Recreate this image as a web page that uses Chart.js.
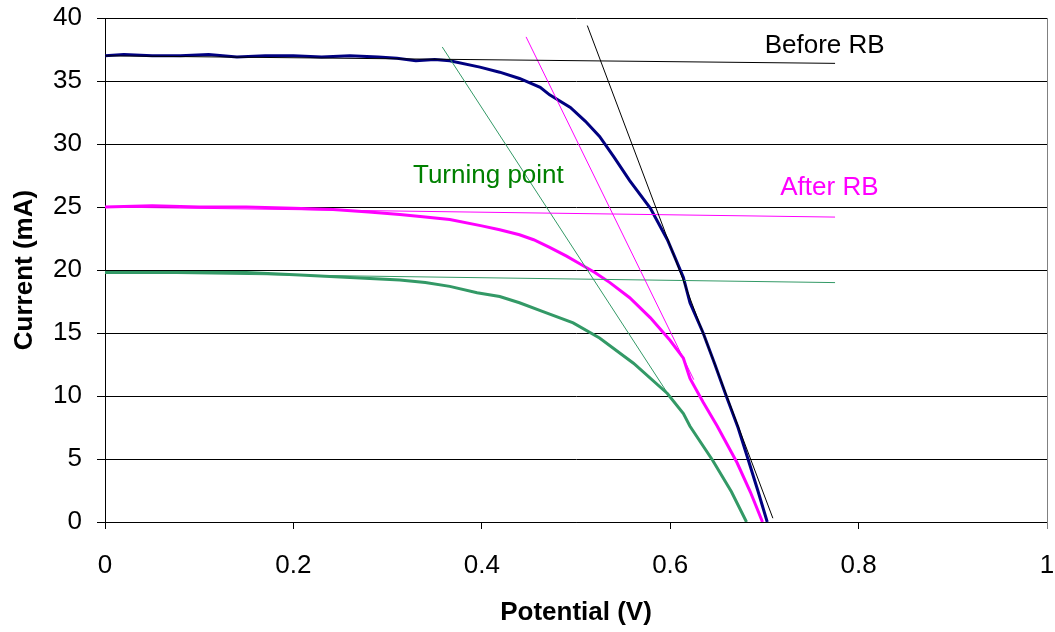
<!DOCTYPE html>
<html>
<head>
<meta charset="utf-8">
<script src="https://cdn.jsdelivr.net/npm/chart.js@4.4.1/dist/chart.umd.min.js"></script>
<style>
  body { margin: 0; background: #fff; }
  canvas { display: block; }
</style>
</head>
<body>
<canvas id="chart" width="1055" height="632"></canvas>
<script>
// I-V curves (potential in V, current in mA)
const beforeV = [0, 0.02, 0.05, 0.08, 0.11, 0.14, 0.17, 0.2, 0.23, 0.26, 0.29, 0.31, 0.33, 0.35, 0.366, 0.398, 0.419, 0.44, 0.462, 0.472, 0.494, 0.51, 0.525, 0.54, 0.557, 0.579, 0.597, 0.605, 0.614, 0.621, 0.635, 0.647, 0.66, 0.672, 0.683, 0.693, 0.703];
const beforeI = [37.0, 37.1, 37.0, 37.0, 37.1, 36.9, 37.0, 37.0, 36.9, 37.0, 36.9, 36.8, 36.6, 36.7, 36.6, 36.1, 35.7, 35.2, 34.5, 33.9, 32.9, 31.8, 30.6, 29.0, 27.1, 24.9, 22.4, 21.0, 19.4, 17.4, 15.0, 12.6, 9.9, 7.5, 4.9, 2.5, 0];

const afterV = [0, 0.05, 0.1, 0.15, 0.2, 0.242, 0.28, 0.313, 0.34, 0.366, 0.4, 0.419, 0.44, 0.455, 0.472, 0.49, 0.504, 0.52, 0.536, 0.557, 0.579, 0.6, 0.614, 0.621, 0.635, 0.65, 0.671, 0.685, 0.698];
const afterI = [25.0, 25.1, 25.0, 25.0, 24.9, 24.8, 24.6, 24.4, 24.2, 24.0, 23.5, 23.2, 22.8, 22.4, 21.8, 21.1, 20.5, 19.8, 19.0, 17.8, 16.2, 14.4, 13.0, 11.4, 9.5, 7.6, 4.7, 2.4, 0];

const turnV = [0, 0.05, 0.1, 0.15, 0.207, 0.26, 0.313, 0.34, 0.366, 0.395, 0.419, 0.44, 0.465, 0.497, 0.525, 0.561, 0.597, 0.614, 0.621, 0.645, 0.665, 0.681];
const turnI = [19.8, 19.8, 19.8, 19.8, 19.6, 19.4, 19.2, 19.0, 18.7, 18.2, 17.9, 17.4, 16.7, 15.8, 14.6, 12.6, 10.2, 8.6, 7.6, 4.9, 2.4, 0];

// tangent lines: [start, end]
const beforeFlatV = [0, 0.775], beforeFlatI = [37.0, 36.4];
const beforeSteepV = [0.512, 0.709], beforeSteepI = [39.4, 0.3];
const afterFlatV = [0, 0.775], afterFlatI = [25.0, 24.2];
const afterSteepV = [0.447, 0.625], afterSteepI = [38.5, 11.3];
const turnFlatV = [0, 0.775], turnFlatI = [19.8, 19.0];
const turnSteepV = [0.358, 0.6], turnSteepI = [37.7, 9.9];

const xTicks = [0, 0.2, 0.4, 0.6, 0.8, 1];

const toPts = (xs, ys) => xs.map((x, i) => ({ x: x, y: ys[i] }));

const curve = (label, xs, ys, color) => ({
  label: label, data: toPts(xs, ys), borderColor: color, borderWidth: 3,
  showLine: true, pointRadius: 0, tension: 0, fill: false
});
const tangent = (label, xs, ys, color) => ({
  label: label, data: toPts(xs, ys), borderColor: color, borderWidth: 1,
  showLine: true, pointRadius: 0, tension: 0, fill: false
});

// text labels placed in data coordinates
const notes = [
  { text: "Before RB", x: 0.764, y: 37.8, color: "#000000" },
  { text: "After RB", x: 0.769, y: 26.5, color: "#FF00FF" },
  { text: "Turning point", x: 0.407, y: 27.5, color: "#008000" }
];

const FAMILY = "'Liberation Sans', Arial, sans-serif";

const notePlugin = {
  id: "notes",
  beforeDatasetsDraw(chart) {
    // grey right-hand border of the plot area
    const a = chart.chartArea, ctx = chart.ctx;
    ctx.save();
    ctx.strokeStyle = "#808080";
    ctx.lineWidth = 1;
    ctx.beginPath();
    ctx.moveTo(a.right + 0.5, a.top);
    ctx.lineTo(a.right + 0.5, a.bottom + 7);
    ctx.stroke();
    ctx.restore();
  },
  afterDatasetsDraw(chart) {
    const ctx = chart.ctx;
    const xs = chart.scales.x, ys = chart.scales.y;
    ctx.save();
    ctx.font = "26px " + FAMILY;
    ctx.textAlign = "center";
    ctx.textBaseline = "middle";
    notes.forEach(n => {
      ctx.fillStyle = n.color;
      ctx.fillText(n.text, xs.getPixelForValue(n.x), ys.getPixelForValue(n.y));
    });
    ctx.restore();
  }
};

const font = { family: FAMILY, size: 26 };
const titleFont = { family: FAMILY, size: 26, weight: "bold" };

new Chart(document.getElementById("chart").getContext("2d"), {
  type: "scatter",
  data: {
    datasets: [
      tangent("before flat", beforeFlatV, beforeFlatI, "#000000"),
      tangent("before steep", beforeSteepV, beforeSteepI, "#000000"),
      tangent("after flat", afterFlatV, afterFlatI, "#FF00FF"),
      tangent("after steep", afterSteepV, afterSteepI, "#FF00FF"),
      tangent("turn flat", turnFlatV, turnFlatI, "#339966"),
      tangent("turn steep", turnSteepV, turnSteepI, "#339966"),
      curve("Turning point", turnV, turnI, "#339966"),
      curve("After RB", afterV, afterI, "#FF00FF"),
      curve("Before RB", beforeV, beforeI, "#000080")
    ]
  },
  options: {
    responsive: false,
    animation: false,
    layout: { padding: { left: 0, right: 8, top: 18, bottom: 0 } },
    plugins: { legend: { display: false }, tooltip: { enabled: false } },
    scales: {
      x: {
        type: "linear", min: 0, max: 1,
        afterBuildTicks: axis => { axis.ticks = xTicks.map(v => ({ value: v })); },
        afterFit: axis => { axis.height = 110; axis.paddingLeft = 0; axis.paddingRight = 0; },
        grid: { drawOnChartArea: false, drawTicks: true, tickLength: 7, color: "#000" },
        border: { display: true, color: "#000", width: 1 },
        ticks: { color: "#000", font: font, padding: 21, maxRotation: 0, callback: v => String(v) },
        title: { display: true, text: "Potential (V)", color: "#000", font: titleFont, padding: { top: 0, bottom: 4 } }
      },
      y: {
        min: 0, max: 40,
        afterFit: axis => { axis.width = 105; axis.paddingTop = 0; axis.paddingBottom = 0; },
        grid: { color: "#000", lineWidth: 1, tickLength: 8 },
        border: { display: true, color: "#000", width: 1 },
        ticks: { stepSize: 5, color: "#000", font: font, padding: 15 },
        title: { display: true, text: "Current (mA)", color: "#000", font: titleFont, padding: { top: 9, bottom: 0 } }
      }
    }
  },
  plugins: [notePlugin]
});
</script>
</body>
</html>
